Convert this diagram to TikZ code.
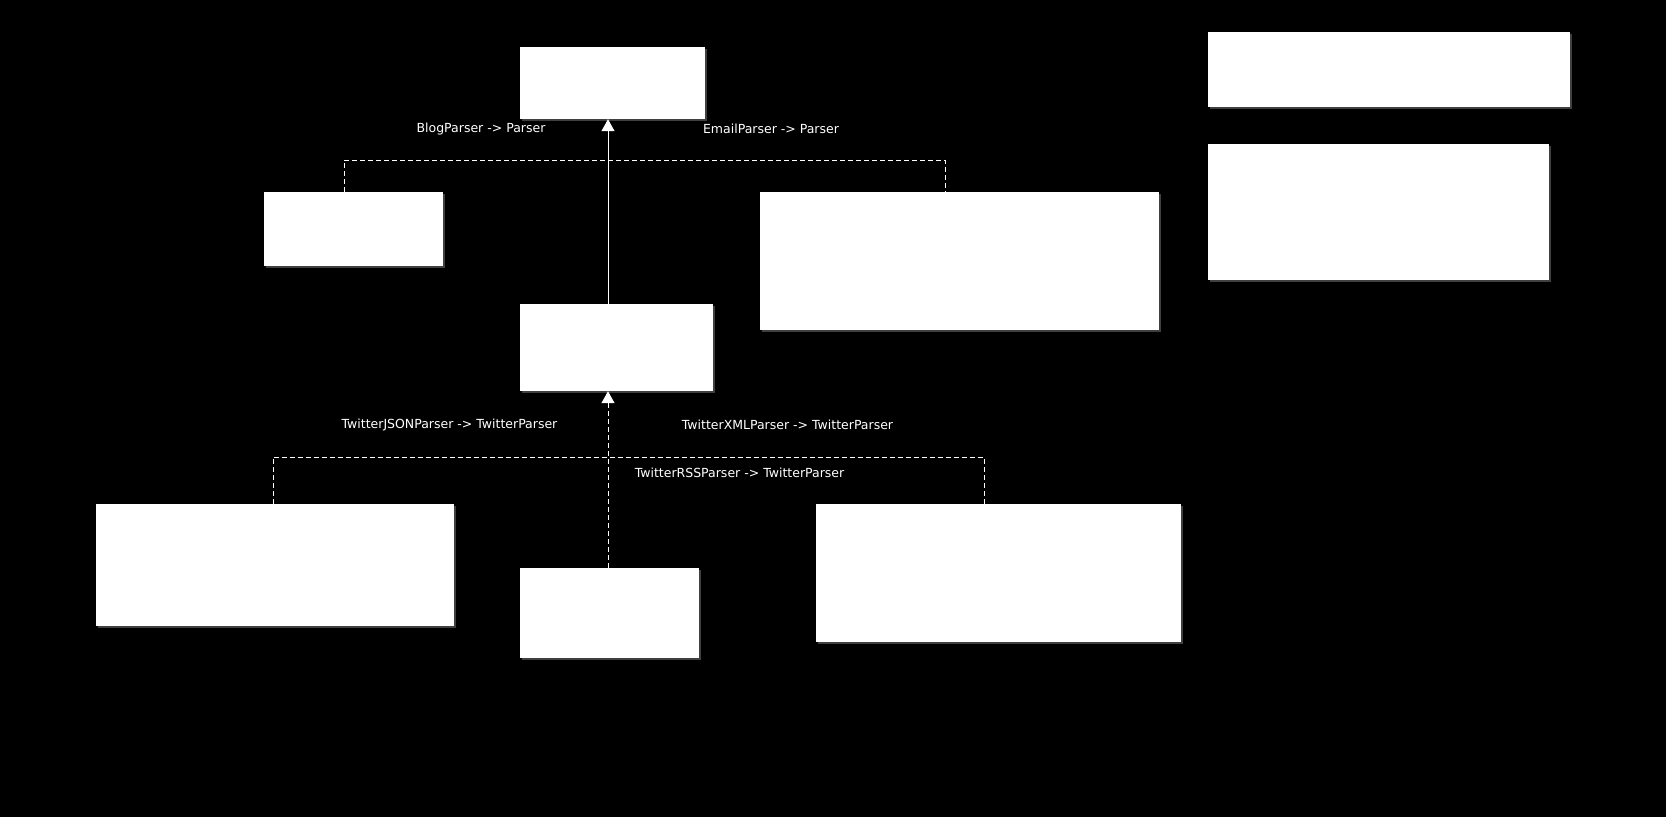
\documentclass[tikz,border=0pt]{standalone}
\usepackage{fontspec}
\setmainfont{DejaVu Sans}
\usetikzlibrary{arrows.meta,shadows}

\begin{document}
\begin{tikzpicture}[x=1pt,y=-1pt,
  font=\fontsize{12.5}{15}\selectfont,
  classbox/.style={fill=white, draw=none, inner sep=0pt,
    drop shadow={shadow xshift=2pt, shadow yshift=-2pt, fill=white!25!black, opacity=1}},
  edgelabel/.style={text=white, inner sep=0pt},
  inherit/.style={draw=white, line width=1pt, -{Triangle[width=13pt,length=12pt,fill=white]}},
  realize/.style={draw=white, line width=1pt, dash pattern=on 5pt off 3pt}]
  \fill[black] (0,0) rectangle (1666,817);
  \useasboundingbox (0,0) rectangle (1666,817);

  % classes
  \node[classbox, minimum width=185pt, minimum height=72pt] (parser) at (612.5,83) {};
  \node[classbox, minimum width=179pt, minimum height=74pt] (blog) at (353.5,229) {};
  \node[classbox, minimum width=399pt, minimum height=138pt] (email) at (959.5,261) {};
  \node[classbox, minimum width=193pt, minimum height=87pt] (twitter) at (616.5,347.5) {};
  \node[classbox, minimum width=358pt, minimum height=122pt] (json) at (275,565) {};
  \node[classbox, minimum width=179pt, minimum height=90pt] (rss) at (609.5,613) {};
  \node[classbox, minimum width=365pt, minimum height=138pt] (xml) at (998.5,573) {};

  % notes
  \node[classbox, minimum width=362pt, minimum height=75pt] (note1) at (1389,69.5) {};
  \node[classbox, minimum width=341pt, minimum height=136pt] (note2) at (1378.5,212) {};

  \coordinate (upjoin) at (608,160);
  \coordinate (lowjoin) at (608,457);

  % edges
  \draw[realize] ([xshift=-9.5pt]blog.north) |- (upjoin) -| ([xshift=-14.5pt]email.north);
  \draw[inherit] (twitter.north -| upjoin) -- (parser.south -| upjoin);
  \draw[realize] ([xshift=-2pt]json.north) |- (lowjoin) -| ([xshift=-14.5pt]xml.north);
  \draw[realize, -{Triangle[width=13pt,length=12pt,fill=white]}] (rss.north -| lowjoin) -- (twitter.south -| lowjoin);

  % labels
  \node[edgelabel] (lblog) at (481,128.6) {BlogParser -> Parser};
  \node[edgelabel] (lemail) at (771,128.6) {EmailParser -> Parser};
  \node[edgelabel] (ljson) at (449.5,425) {TwitterJSONParser -> TwitterParser};
  \node[edgelabel] (lxml) at (787.5,425) {TwitterXMLParser -> TwitterParser};
  \node[edgelabel] (lrss) at (739.5,472.8) {TwitterRSSParser -> TwitterParser};
\end{tikzpicture}
\end{document}
